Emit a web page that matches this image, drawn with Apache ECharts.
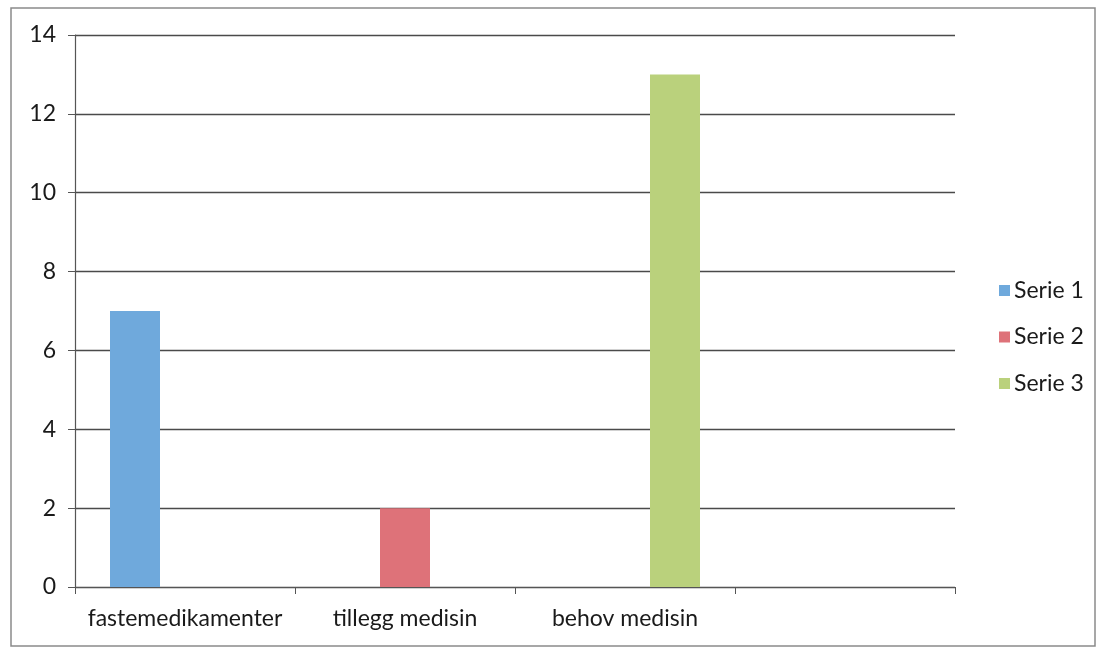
<!DOCTYPE html>
<html>
<head>
<meta charset="utf-8">
<script src="https://cdn.jsdelivr.net/npm/echarts@6/dist/echarts.min.js"></script>
<style>
  html, body { margin: 0; padding: 0; background: #fff; }
  #chart { width: 1101px; height: 650px; }
</style>
</head>
<body>
<div id="chart"></div>
<script>
// Categories on the x axis (the last slot is left empty)
const categories = ['fastemedikamenter', 'tillegg medisin', 'behov medisin', ''];
// Series values per category
const serie1 = [7, null, null, null];
const serie2 = [null, 2, null, null];
const serie3 = [null, null, 13, null];
const seriesNames = ['Serie 1', 'Serie 2', 'Serie 3'];
const seriesColors = ['#6fa9dc', '#de7279', '#bad17c'];

const fontFamily = 'Lato, "Open Sans", sans-serif';
const textColor = '#1a1a1a';

const chart = echarts.init(document.getElementById('chart'));
chart.setOption({
  animation: false,
  backgroundColor: '#fff',
  graphic: [{
    type: 'rect',
    shape: { x: 11, y: 8, width: 1084, height: 638 },
    style: { fill: 'none', stroke: '#8a8a8a', lineWidth: 1.5 },
    silent: true
  }],
  grid: { left: 75, right: 146, top: 35, bottom: 63 },
  legend: {
    orient: 'vertical',
    left: 994,
    top: 274,
    itemWidth: 11,
    itemHeight: 11,
    itemGap: 23.5,
    icon: 'rect',
    textStyle: { fontFamily, fontSize: 23, color: textColor, padding: [0, 0, 0, -1] },
    data: seriesNames
  },
  xAxis: {
    type: 'category',
    data: categories,
    axisLine: { lineStyle: { color: '#555', width: 1.2 } },
    axisTick: { show: true, length: 7, alignWithLabel: false, lineStyle: { color: '#555' } },
    axisLabel: { fontFamily, fontSize: 23, color: textColor, margin: 20, interval: 0 }
  },
  yAxis: {
    type: 'value',
    min: 0,
    max: 14,
    interval: 2,
    axisLine: { show: true, lineStyle: { color: '#555', width: 1.2 } },
    axisTick: { show: true, length: 7, lineStyle: { color: '#555' } },
    axisLabel: { fontFamily, fontSize: 23, color: textColor, margin: 19 },
    splitLine: { lineStyle: { color: '#4a4a4a', width: 1.3 } }
  },
  series: [serie1, serie2, serie3].map((data, i) => ({
    name: seriesNames[i],
    type: 'bar',
    data,
    barWidth: 50,
    barGap: '0%',
    itemStyle: { color: seriesColors[i] }
  }))
});
</script>
</body>
</html>
